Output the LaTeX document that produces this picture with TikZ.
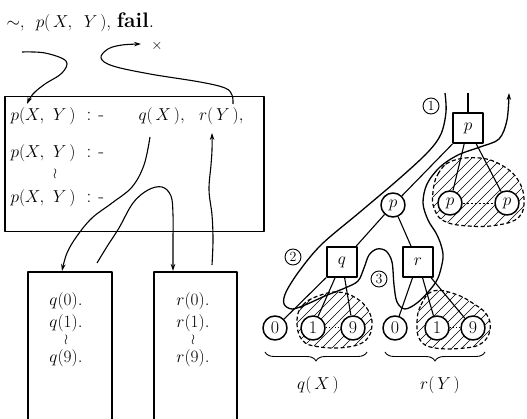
\documentclass[tikz,border=0pt]{standalone}
\usetikzlibrary{arrows.meta,decorations.pathreplacing}
\begin{document}
\begin{tikzpicture}[x=1pt,y=-1pt,line width=1.1pt,line join=round,
  txt/.style={font=\fontsize{19}{22}\selectfont,inner sep=0pt,anchor=base west},
  ctxt/.style={font=\fontsize{19}{22}\selectfont,inner sep=0pt,anchor=base},
  wave/.style={font=\fontsize{14}{14}\selectfont,inner sep=0pt},
  frame/.style={line width=1.5pt},
  tnode/.style={circle,draw,fill=white,line width=1.5pt,minimum size=24pt,inner sep=0pt,font=\fontsize{18}{18}\selectfont},
  tsq/.style={rectangle,draw,fill=white,line width=1.8pt,minimum size=30pt,inner sep=0pt,font=\fontsize{18}{18}\selectfont},
  cnum/.style={circle,draw,line width=0.9pt,minimum size=16pt,inner sep=0pt,font=\fontsize{14}{14}\selectfont},
  tip/.style={-{Stealth[length=7pt,width=4.5pt]}},
  trace/.style={line width=1.3pt},
  hatch/.style={line width=0.6pt},
  blob/.style={line width=1.2pt,dash pattern=on 4pt off 2.5pt},
]
\useasboundingbox (0,0) rectangle (527,419);

% ---------- program text ----------
\node[txt] (goal) at (6,28) {$\sim$,\; $p(\,X,\ \,Y\,)$, {\fontsize{21}{24}\selectfont\textbf{fail}.}};
\node (fx) at (157,46) {\fontsize{15}{15}\selectfont$\times$};

\node[draw,frame,minimum width=259pt,minimum height=135pt,anchor=north west] (prog) at (4,96) {};
\node[txt] (h1) at (10,121) {$p(X,\ Y\,)$\hspace{11pt}:\hspace{7pt}-};
\node[txt] (b1) at (138,121) {$q(\,X\,),\ \ r(\,Y\,),$};
\node[txt] (h2) at (10,158) {$p(X,\ Y\,)$\hspace{11pt}:\hspace{7pt}-};
\node[wave] (w1) at (55,174) {$\wr$};
\node[txt] (h3) at (10,203) {$p(X,\ Y\,)$\hspace{11pt}:\hspace{7pt}-};

% fact boxes, open at the bottom
\draw[frame] (28,419) |- (112,272) -- (112,419);
\draw[frame] (154,419) |- (237,272) -- (237,419);
\node[ctxt] (q0) at (66,306) {$q(0)$.};
\node[ctxt] (q1) at (66,327) {$q(1)$.};
\node[wave] (w2) at (66,340) {$\wr$};
\node[ctxt] (q9) at (66,362) {$q(9)$.};
\node[ctxt] (r0) at (193,306) {$r(0)$.};
\node[ctxt] (r1) at (193,327) {$r(1)$.};
\node[wave] (w3) at (193,340) {$\wr$};
\node[ctxt] (r9) at (193,362) {$r(9)$.};

% ---------- control flow on the program ----------
\coordinate (c1s) at (22,52);
\coordinate (c1e) at (27,104);
\draw[tip] plot[smooth,tension=0.6] coordinates {(c1s) (45,53) (66,61) (62,73) (45,84) (33,94) (c1e)};
\coordinate (c2s) at (233,104);
\coordinate (c2e) at (141,44);
\draw[tip] plot[smooth,tension=0.6] coordinates {(c2s) (232,95) (225,88) (200,82) (150,74) (113,66) (101,58) (108,49) (122,45) (c2e)};
\coordinate (c3s) at (150,137);
\coordinate (c3e) at (62,271);
\draw[tip] plot[smooth,tension=0.6] coordinates {(c3s) (144,165) (132,187) (112,203) (92,218) (77,236) (67,253) (c3e)};
\coordinate (c4s) at (97,263);
\coordinate (c4e) at (173,271);
\draw[tip] plot[smooth,tension=0.6] coordinates {(c4s) (108,245) (119,228) (133,203) (148,190) (162,187) (171,196) (173,215) (173,240) (c4e)};
\coordinate (c5s) at (212,265);
\coordinate (c5e) at (212,133);
\draw[tip] plot[smooth,tension=0.6] coordinates {(c5s) (213,240) (212,215) (209,190) (211,165) (212,150) (c5e)};

% ---------- search tree: pruned regions ----------
\def\pblob{plot[smooth cycle,tension=0.7] coordinates {(433,192) (438,174) (452,161) (480,158) (503,166) (518,180) (524,199) (519,217) (498,225) (468,226) (444,221) (434,208)}}
\def\qblob{plot[smooth cycle,tension=0.7] coordinates {(297,320) (303,305) (318,296) (338,292) (356,298) (368,310) (372,325) (366,340) (348,347) (320,347) (302,340)}}
\def\rblob{plot[smooth cycle,tension=0.7] coordinates {(417,322) (421,305) (433,291) (455,294) (474,304) (487,315) (490,330) (482,343) (465,348) (435,348) (420,340)}}
\foreach \b in {\pblob,\qblob,\rblob}{
  \begin{scope}
    \clip \b;
    \foreach \k in {200,210,...,1100}
      \draw[hatch] ({\k-400},400) -- (\k,0);
  \end{scope}
  \draw[blob] \b;
}

% ---------- search tree: nodes ----------
\node[tsq] (psq) at (468,128) {$p$};
\node[tnode] (pc) at (393,205) {$p$};
\node[tnode] (pa) at (450,203) {$p$};
\node[tnode] (pb) at (507,203) {$p$};
\node[tsq] (qsq) at (342,262) {$q$};
\node[tsq] (rsq) at (418,262) {$r$};
\node[tnode] (qa) at (275,328) {0};
\node[tnode] (qb) at (313,328) {1};
\node[tnode] (qc) at (353,328) {9};
\node[tnode] (ra) at (395,328) {0};
\node[tnode] (rb) at (437,328) {1};
\node[tnode] (rc) at (473,328) {9};
\coordinate (ptop) at (468,93);

\draw (ptop) -- (psq);
\draw (psq) -- (pc);
\draw (psq) -- (pa);
\draw (psq) -- (pb);
\draw[line width=0.9pt,dash pattern=on 2pt off 2pt] (pa) -- (pb);
\draw (pc) -- (qsq);
\draw (pc) -- (rsq);
\draw (qsq) -- (qa);
\draw (qsq) -- (qb);
\draw (qsq) -- (qc);
\draw[dotted,line width=1pt] (qb) -- (qc);
\draw (rsq) -- (ra);
\draw (rsq) -- (rb);
\draw (rsq) -- (rc);
\draw[dotted,line width=1pt] (rb) -- (rc);

% ---------- execution trace ----------
\coordinate (ts) at (445,93);
\coordinate (te) at (509,93);
\draw[trace,tip] plot[smooth,tension=0.55] coordinates {(ts) (446,112) (441,134) (428,152) (400,178) (360,212) (322,244) (300,270) (286,292) (284,304) (292,309) (305,305) (325,296) (345,288) (358,281) (364,268) (369,255) (377,249) (386,251) (392,262) (394,285) (397,302) (405,309) (417,303) (429,291) (438,278) (443,258) (441,245) (436,233) (428,220) (423,203) (427,184) (440,167) (458,155) (480,147) (499,139) (507,120) (te)};

\node[cnum] (n1) at (431,106) {1};
\node[cnum] (n2) at (293,257) {2};
\node[cnum] (n3) at (379,279) {3};

% ---------- braces and labels ----------
\draw[line width=0.9pt,decorate,decoration={brace,mirror,amplitude=9pt}] (265,352) -- (367,352);
\draw[line width=0.9pt,decorate,decoration={brace,mirror,amplitude=9pt}] (385,352) -- (485,352);
\node[ctxt] (lq) at (318,389) {$q(\,X\,)$};
\node[ctxt] (lr) at (440,389) {$r(\,Y\,)$};
\end{tikzpicture}
\end{document}
